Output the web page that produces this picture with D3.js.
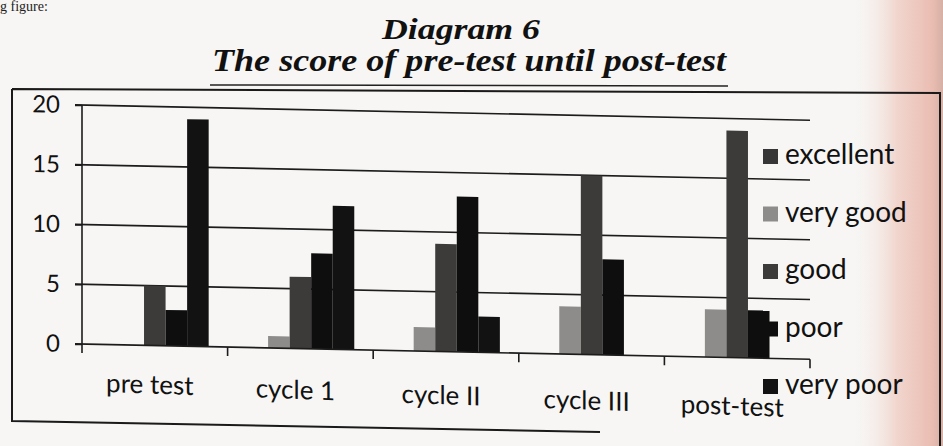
<!DOCTYPE html>
<html>
<head>
<meta charset="utf-8">
<script src="https://cdn.jsdelivr.net/npm/d3@7"></script>
<style>
  body { margin: 0; background: #f7f6f4; }
  svg { display: block; }
</style>
</head>
<body>
<script>
// data
var categories = ["pre test", "cycle 1", "cycle II", "cycle III", "post-test"];
var seriesNames = ["excellent", "very good", "good", "poor", "very poor"];
var excellent = [0, 0, 0, 0, 0];
var veryGood  = [0, 1, 2, 4, 4];
var good      = [5, 6, 9, 15, 19];
var poor      = [3, 8, 13, 8, 4];
var veryPoor  = [19, 12, 3, 0, 0];
var yTicks = [0, 5, 10, 15, 20];

var seriesColor = ["#363636", "#8e8c8a", "#3c3b3a", "#0e0e0e", "#121212"];

var W = 943, H = 446;

var rows = categories.map(function(c, i) {
  return { cat: c, values: [excellent[i], veryGood[i], good[i], poor[i], veryPoor[i]] };
});

var svg = d3.select("body").append("svg")
    .attr("width", W)
    .attr("height", H);

// pinkish light at the right edge of the photo
var defs = svg.append("defs");
var grad = defs.append("linearGradient").attr("id", "edge")
    .attr("x1", "0").attr("x2", "1").attr("y1", "0").attr("y2", "0");
grad.append("stop").attr("offset", "0").attr("stop-color", "#f7f6f4").attr("stop-opacity", 0);
grad.append("stop").attr("offset", "0.5").attr("stop-color", "#f1d6ce");
grad.append("stop").attr("offset", "0.88").attr("stop-color", "#eabdb2");
grad.append("stop").attr("offset", "1").attr("stop-color", "#d6b0a5");

svg.append("rect").attr("width", W).attr("height", H).attr("fill", "#f7f6f4");
svg.append("rect").attr("x", 850).attr("width", W - 850).attr("height", H).attr("fill", "url(#edge)");

// line of text above the figure, mostly cut off in the photo
svg.append("text")
    .attr("x", 0).attr("y", 11)
    .style("font-family", "Liberation Serif, serif")
    .style("font-size", "14px")
    .attr("fill", "#222")
    .text("g figure:");

// titles
svg.append("text")
    .attr("x", 461).attr("y", 39)
    .attr("text-anchor", "middle")
    .attr("textLength", 158).attr("lengthAdjust", "spacingAndGlyphs")
    .style("font-family", "Liberation Serif, serif")
    .style("font-weight", "bold").style("font-style", "italic")
    .style("font-size", "29px")
    .attr("fill", "#111")
    .text("Diagram 6");

svg.append("text")
    .attr("x", 469).attr("y", 71)
    .attr("text-anchor", "middle")
    .attr("textLength", 514).attr("lengthAdjust", "spacingAndGlyphs")
    .style("font-family", "Liberation Serif, serif")
    .style("font-weight", "bold").style("font-style", "italic")
    .style("font-size", "32px")
    .attr("fill", "#111")
    .text("The score of pre-test until post-test");

svg.append("line")
    .attr("x1", 210).attr("x2", 728).attr("y1", 85).attr("y2", 86)
    .attr("stroke", "#222").attr("stroke-width", 1.5);

// outer chart border
svg.append("path")
    .attr("d", "M12,89 L940,93 L940,446 M12,89 L12,421 L600,432")
    .attr("fill", "none")
    .attr("stroke", "#1a1a1a")
    .attr("stroke-width", 2);

// plot, slightly sheared like the photographed page
var left = 82, right = 810;
var g = svg.append("g")
    .attr("transform", "translate(" + left + ",0) skewY(1.2) translate(" + (-left) + ",0)");

var x0 = d3.scaleBand().domain(categories).range([left, right]).paddingInner(0).paddingOuter(0);
var x1 = d3.scaleBand().domain(seriesNames)
    .range([x0.bandwidth() * 0.13, x0.bandwidth() * 0.87]);
var y = d3.scaleLinear().domain([0, 20]).range([344, 105]);

// gridlines
g.append("g")
  .selectAll("line")
  .data(yTicks.filter(function(d) { return d > 0; }))
  .join("line")
    .attr("x1", left - 7).attr("x2", right)
    .attr("y1", function(d) { return y(d); })
    .attr("y2", function(d) { return y(d); })
    .attr("stroke", "#1c1c1c")
    .attr("stroke-width", 1.6);

// bars
g.append("g")
  .selectAll("g")
  .data(rows)
  .join("g")
    .attr("transform", function(d) { return "translate(" + x0(d.cat) + ",0)"; })
  .selectAll("rect")
  .data(function(d) { return d.values.map(function(v, i) { return { name: seriesNames[i], value: v, i: i }; }); })
  .join("rect")
    .attr("x", function(d) { return x1(d.name); })
    .attr("width", x1.bandwidth())
    .attr("y", function(d) { return y(d.value); })
    .attr("height", function(d) { return y(0) - y(d.value); })
    .attr("fill", function(d) { return seriesColor[d.i]; });

// y axis
var yAxis = g.append("g")
    .attr("transform", "translate(" + left + ",0)")
    .call(d3.axisLeft(y).tickValues(yTicks).tickSize(7).tickPadding(15));
yAxis.selectAll("line").attr("stroke", "#1c1c1c").attr("stroke-width", 1.6);
yAxis.select(".domain").attr("stroke", "#1c1c1c").attr("stroke-width", 1.6).attr("d", "M0," + y(20) + "V" + y(0));
yAxis.selectAll("text")
    .style("font-family", "Lato, sans-serif")
    .style("font-size", "24px")
    .attr("fill", "#111");

// x axis with ticks between categories
var xAxis = g.append("g")
    .attr("transform", "translate(0," + y(0) + ")");
xAxis.append("line")
    .attr("x1", left - 7).attr("x2", right)
    .attr("stroke", "#1c1c1c").attr("stroke-width", 1.6);
xAxis.selectAll("line.tick")
  .data(categories.map(function(c) { return x0(c); }).concat([right]))
  .join("line")
    .attr("class", "tick")
    .attr("x1", function(d) { return d; }).attr("x2", function(d) { return d; })
    .attr("y1", 0).attr("y2", 9)
    .attr("stroke", "#1c1c1c").attr("stroke-width", 1.6);
// labels drop a little more towards the right in the photo
xAxis.append("g")
    .attr("transform", "translate(" + left + ",0) skewY(0.9) translate(" + (-left) + ",0)")
  .selectAll("text")
  .data(categories)
  .join("text")
    .attr("x", function(d) { return x0(d) + x0.bandwidth() / 2 - 5; })
    .attr("y", 47)
    .attr("text-anchor", "middle")
    .style("font-family", "Lato, sans-serif")
    .style("font-size", "26px")
    .attr("fill", "#111")
    .text(function(d) { return d; });

// legend
var legend = svg.append("g")
  .selectAll("g")
  .data(seriesNames)
  .join("g")
    .attr("transform", function(d, i) { return "translate(763," + (149 + i * 57.5) + ")"; });
legend.append("rect")
    .attr("width", 15).attr("height", 15)
    .attr("fill", function(d, i) { return seriesColor[i]; });
legend.append("text")
    .attr("x", 22).attr("y", 15)
    .style("font-family", "Lato, sans-serif")
    .style("font-size", "28px")
    .attr("fill", "#111")
    .text(function(d) { return d; });
</script>
</body>
</html>
